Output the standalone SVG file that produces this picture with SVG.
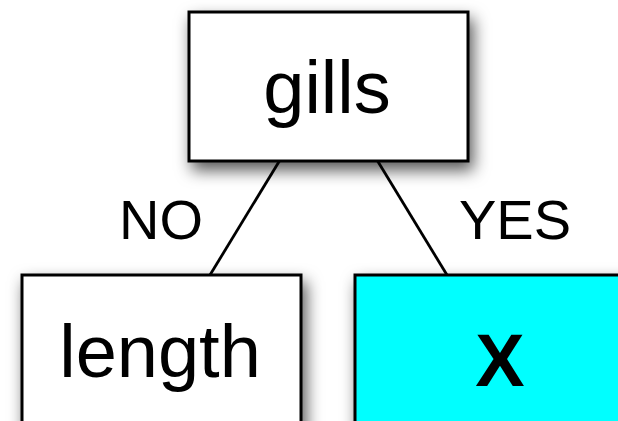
<svg xmlns="http://www.w3.org/2000/svg" width="618" height="421" viewBox="0 0 618 421">
  <defs>
    <filter id="shadow" x="-20%" y="-20%" width="150%" height="160%">
      <feDropShadow dx="4" dy="8" stdDeviation="8" flood-color="#000" flood-opacity="0.65"/>
    </filter>
  </defs>
  <style>
    .box { stroke: #000; stroke-width: 3; filter: url(#shadow); }
    .plain { fill: #fff; }
    .leaf { fill: #00ffff; }
    .label { font-family: "Liberation Sans", Arial, sans-serif; fill: #000; text-anchor: middle; }
    .big { font-size: 74px; }
    .edge-label { font-size: 56px; }
    .edge { stroke: #000; stroke-width: 2.8; fill: none; }
  </style>

  <g id="edges">
    <line class="edge" x1="280" y1="160" x2="210" y2="275"/>
    <line class="edge" x1="377" y1="160" x2="447" y2="275"/>
    <text class="label edge-label" x="161" y="239">NO</text>
    <text class="label edge-label" x="515" y="239">YES</text>
  </g>

  <g id="node-gills">
    <rect class="box plain" x="189" y="12" width="279" height="149"/>
    <text class="label big" x="327" y="113">gills</text>
  </g>

  <g id="node-length">
    <rect class="box plain" x="22" y="275" width="279" height="160"/>
    <text class="label big" x="160" y="377">length</text>
  </g>

  <g id="node-x">
    <rect class="box leaf" x="355" y="275" width="279" height="160"/>
    <text class="label big" x="500" y="386" font-weight="bold">X</text>
  </g>
</svg>
